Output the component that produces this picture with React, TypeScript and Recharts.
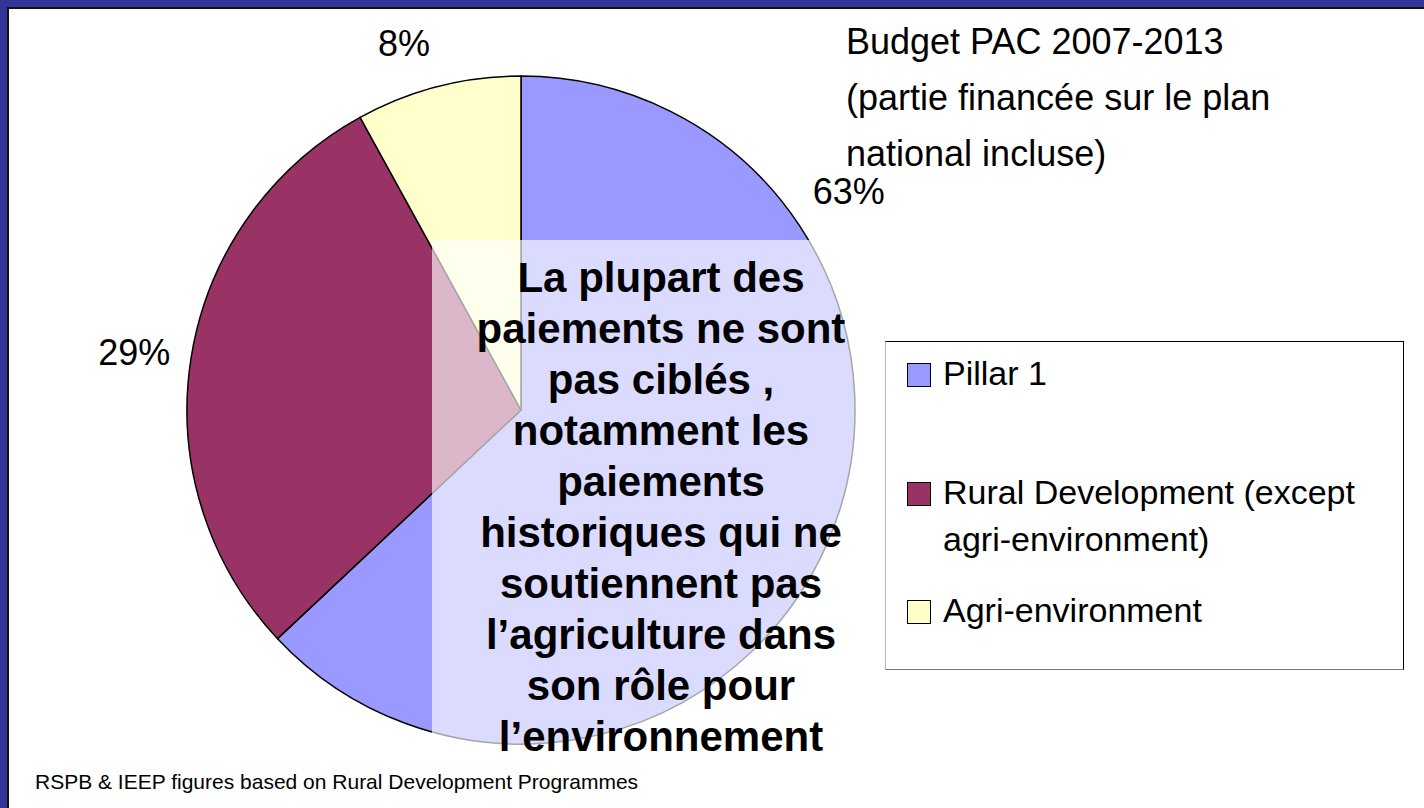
import { PieChart, Pie, Cell, Legend } from 'recharts';

const categories = ['Pillar 1', 'Rural Development (except agri-environment)', 'Agri-environment'];
const shares = [63, 29, 8];
const colors = ['#9999ff', '#993366', '#ffffcc'];

const titleLines = ['Budget PAC 2007-2013', '(partie financée sur le plan', 'national incluse)'];
const noteLines = [
  'La plupart des',
  'paiements ne sont',
  'pas ciblés ,',
  'notamment les',
  'paiements',
  'historiques qui ne',
  'soutiennent pas',
  'l’agriculture dans',
  'son rôle pour',
  'l’environnement',
];
const source = 'RSPB & IEEP figures based on Rural Development Programmes';

// where the % labels sit: angle (deg, ccw from 3 o'clock) and gap past the rim
const labelSpots = [
  { angle: 33.7, gap: 60 },
  { angle: 171.6, gap: 57 },
  { angle: 107.7, gap: 51 },
];

const data = categories.map((name, i) => ({ name, value: shares[i] }));

const FONT = '"Liberation Sans", Arial, sans-serif';

const renderLabel = (props: any) => {
  const { cx, cy, outerRadius, index, value } = props;
  const spot = labelSpots[index];
  const rad = (spot.angle * Math.PI) / 180;
  const r = outerRadius + spot.gap;
  return (
    <text
      x={cx + r * Math.cos(rad)}
      y={cy - r * Math.sin(rad)}
      textAnchor="middle"
      dominantBaseline="central"
      fontSize={36}
      fontFamily={FONT}
      fill="#000"
    >
      {value}%
    </text>
  );
};

const renderLegend = () => (
  <div
    style={{
      width: 519,
      height: 329,
      boxSizing: 'border-box',
      border: '1.5px solid #000',
      borderLeftColor: '#bbb',
      borderBottomColor: '#777',
      background: '#fff',
      paddingTop: 8,
      paddingLeft: 21,
      fontFamily: FONT,
      fontSize: 34,
      lineHeight: '47px',
      color: '#000',
    }}
  >
    {categories.map((name, i) => (
      <div
        key={name}
        style={{ display: 'flex', alignItems: 'flex-start', marginTop: i === 1 ? 72 : i === 2 ? 24 : 0 }}
      >
        <span
          style={{
            width: 22,
            height: 22,
            marginTop: 13,
            marginRight: 12,
            flex: '0 0 auto',
            background: colors[i],
            border: '1.5px solid #000',
          }}
        />
        <span style={{ maxWidth: 460 }}>{name}</span>
      </div>
    ))}
  </div>
);

export default function App() {
  return (
    <div style={{ position: 'relative', width: 1424, height: 808, background: '#333399', overflow: 'hidden', fontFamily: FONT }}>
      <style>{'body{margin:0}'}</style>
      <div
        style={{
          position: 'absolute',
          left: 7,
          top: 7,
          width: 1417,
          height: 801,
          boxSizing: 'border-box',
          background: '#fff',
          borderTop: '2px solid #111',
          borderLeft: '2px solid #111',
        }}
      />
      <div style={{ position: 'absolute', left: 0, top: 0 }}>
        <PieChart width={1424} height={808} margin={{ top: 0, right: 0, bottom: 0, left: 0 }}>
          <Pie
            data={data}
            dataKey="value"
            nameKey="name"
            cx={521}
            cy={410}
            outerRadius={334}
            startAngle={90}
            endAngle={-270}
            stroke="#000"
            strokeWidth={1.5}
            label={renderLabel}
            labelLine={false}
            isAnimationActive={false}
          >
            {data.map((d, i) => (
              <Cell key={d.name} fill={colors[i]} />
            ))}
          </Pie>
          <Legend
            content={renderLegend}
            wrapperStyle={{ position: 'absolute', left: 885, top: 341, width: 519, height: 329 }}
          />
        </PieChart>
      </div>
      <div
        style={{
          position: 'absolute',
          left: 432,
          top: 240,
          width: 430,
          height: 515,
          background: 'rgba(255,255,255,0.65)',
        }}
      />
      <div
        style={{
          position: 'absolute',
          left: 461,
          top: 252,
          width: 400,
          textAlign: 'center',
          fontWeight: 700,
          fontSize: 42,
          lineHeight: '51px',
          color: '#000',
          whiteSpace: 'nowrap',
        }}
      >
        {noteLines.map((l) => (
          <div key={l}>{l}</div>
        ))}
      </div>
      <div
        style={{
          position: 'absolute',
          left: 846,
          top: 14,
          fontSize: 36,
          lineHeight: '56px',
          color: '#000',
          whiteSpace: 'nowrap',
        }}
      >
        {titleLines.map((l) => (
          <div key={l}>{l}</div>
        ))}
      </div>
      <div style={{ position: 'absolute', left: 35, top: 770, fontSize: 21, color: '#000', whiteSpace: 'nowrap' }}>
        {source}
      </div>
    </div>
  );
}
